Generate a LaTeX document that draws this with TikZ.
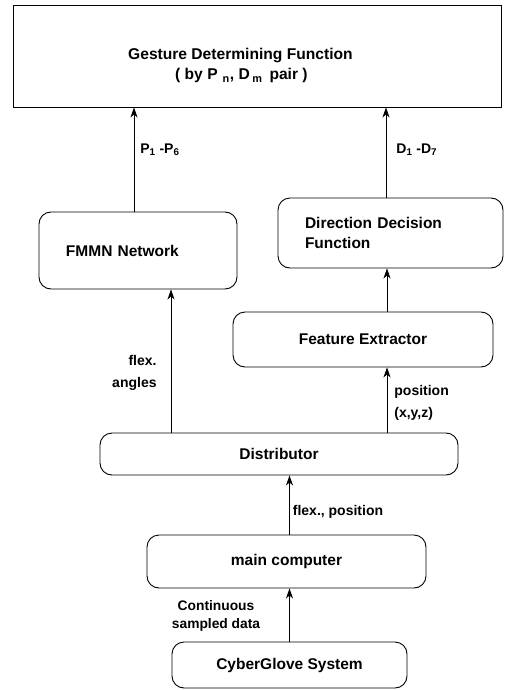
\documentclass[tikz,border=0pt]{standalone}
\usepackage{fontspec}
\setmainfont{Liberation Sans}
\usetikzlibrary{arrows.meta}
\tikzset{
  block/.style={draw, line width=0.9bp, rounded corners=12bp, inner sep=0pt,
    font=\bfseries\fontsize{15.5bp}{20bp}\selectfont},
  leftblock/.style={block, align=left, inner xsep=27bp},
  lbl/.style={font=\bfseries\fontsize{14bp}{22bp}\selectfont, inner sep=0pt},
  arr/.style={line width=0.8bp, -{Stealth[length=10bp,width=7bp,inset=3bp]}}
}
\begin{document}
\begin{tikzpicture}[x=1bp,y=-1bp]
    \useasboundingbox (0,0) rectangle (505,690);
    \node[draw, line width=0.9bp, minimum width=488bp, minimum height=102bp] (gdf) at (257,56) {};
    \node[anchor=base west, inner sep=0pt, font=\bfseries\fontsize{15.6bp}{20bp}\selectfont] (gdfa) at (128,60) {Gesture Determining Function};
    \node[anchor=base west, inner sep=0pt, font=\bfseries\fontsize{15.6bp}{20bp}\selectfont] (gdfb) at (175,80) {( by P\hspace{5bp}\textsubscript{n}, D\,\textsubscript{m}\, pair )};
    \node[leftblock, text width=144bp, minimum width=198bp, minimum height=77bp] (fmmn) at (138,250.5) {FMMN Network};
    \node[leftblock, text width=171bp, minimum width=225bp, minimum height=70bp] (ddf) at (390.5,233) {Direction Decision\\Function};
    \node[block, minimum width=260bp, minimum height=55bp] (fe) at (363,339.5) {Feature Extractor};
    \node[block, minimum width=358bp, minimum height=42bp] (dist) at (279,454) {Distributor};
    \node[block, minimum width=279bp, minimum height=53bp] (mc) at (286.5,561.5) {main computer};
    \node[block, minimum width=235bp, minimum height=46bp] (cg) at (289.5,665) {CyberGlove System};
    \coordinate (pcol) at (134,0);
    \coordinate (dcol) at (386,0);
    \coordinate (fcol) at (171,0);
    \coordinate (ecol) at (387,0);
    \coordinate (mcol) at (289.5,0);
    \draw[arr] (pcol |- fmmn.north) -- node[lbl, pos=0.59, right=6bp] (plbl) {P\textsubscript{1} -P\textsubscript{6}} (pcol |- gdf.south);
    \draw[arr] (dcol |- ddf.north) -- node[lbl, pos=0.53, right=10bp] (dlbl) {D\textsubscript{1} -D\textsubscript{7}} (dcol |- gdf.south);
    \draw[arr] (ecol |- fe.north) -- (ecol |- ddf.south);
    \draw[arr] (fcol |- dist.north) -- node[lbl, pos=0.42, left=14bp, align=right] (flbl) {flex.\\angles} (fcol |- fmmn.south);
    \draw[arr] (ecol |- dist.north) -- node[lbl, pos=0.45, right=7bp, align=left] (xlbl) {position\\(x,y,z)} (ecol |- fe.south);
    \draw[arr] (mcol |- mc.north) -- node[lbl, pos=0.38, right=3bp] (mlbl) {flex., position} (mcol |- dist.south);
    \draw[arr] (mcol |- cg.north) -- node[lbl, pos=0.48, left=29bp, align=center, font=\bfseries\fontsize{13.8bp}{18bp}\selectfont] (clbl) {Continuous\\sampled data} (mcol |- mc.south);
\end{tikzpicture}
\end{document}
